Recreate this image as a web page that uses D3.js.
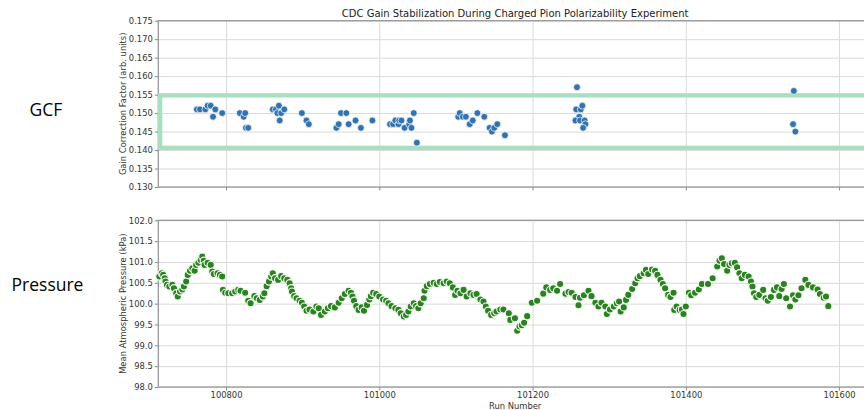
<!DOCTYPE html>
<html lang="en">
<head>
<meta charset="UTF-8">
<title>CDC Gain Stabilization</title>
<style>
  body { margin: 0; background: #fff; overflow: hidden; }
  .tick text { font-family: "DejaVu Sans", sans-serif; font-size: 8.4px; fill: #333; }
  .tick line { stroke: #888; }
  .grid line { stroke: #dadada; stroke-width: 1; }
  .grid path, .axis path { display: none; }
</style>
</head>
<body>
<div id="my_dataviz"></div>
<script src="https://d3js.org/d3.v7.min.js"></script>
<script>

// ---- data ----
var xTicks = [100800, 101000, 101200, 101400, 101600];
var gcfTicks = [0.130, 0.135, 0.140, 0.145, 0.150, 0.155, 0.160, 0.165, 0.170, 0.175];
var pressureTicks = [98.0, 98.5, 99.0, 99.5, 100.0, 100.5, 101.0, 101.5, 102.0];

// stable band drawn around the GCF values
var bandLow = 0.1406, bandHigh = 0.1548;

var gcfRuns = [100762, 100766, 100773, 100776, 100780, 100783, 100786, 100795,
  100818, 100823, 100825, 100826, 100829,
  100861, 100865, 100869, 100867, 100872, 100870, 100876, 100899, 100905, 100908,
  100944, 100947, 100950, 100957, 100960, 100969, 100976, 100991,
  101014, 101018, 101021, 101025, 101026, 101029, 101033, 101039, 101040, 101042, 101045, 101049,
  101103, 101105, 101109, 101113, 101118, 101122, 101128, 101137, 101144, 101147, 101150, 101154, 101164,
  101258, 101257, 101263, 101265, 101261, 101256, 101262, 101268, 101269, 101266,
  101541, 101540, 101543];
var gcfValues = [0.151, 0.151, 0.151, 0.152, 0.152, 0.149, 0.151, 0.150,
  0.150, 0.149, 0.150, 0.146, 0.146,
  0.151, 0.151, 0.152, 0.150, 0.150, 0.148, 0.151, 0.150, 0.148, 0.147,
  0.146, 0.147, 0.150, 0.150, 0.147, 0.148, 0.146, 0.148,
  0.147, 0.147, 0.148, 0.147, 0.148, 0.148, 0.146, 0.147, 0.148, 0.146, 0.150, 0.142,
  0.149, 0.150, 0.149, 0.149, 0.147, 0.148, 0.150, 0.149, 0.146, 0.145, 0.146, 0.147, 0.144,
  0.157, 0.151, 0.151, 0.152, 0.149, 0.148, 0.148, 0.148, 0.147, 0.146,
  0.156, 0.147, 0.145];

var pressureRuns = [100713, 100716, 100718, 100720, 100721, 100723, 100726, 100730, 100732, 100735,
  100737, 100740, 100743, 100745, 100748, 100750, 100753, 100756, 100759, 100761,
  100764, 100767, 100769, 100771, 100772, 100776, 100780, 100782, 100784, 100789,
  100792, 100795, 100796, 100799, 100803, 100808, 100812, 100816, 100819, 100825,
  100829, 100832, 100837, 100840, 100844, 100848, 100850, 100853, 100856, 100859,
  100861, 100864, 100868, 100872, 100876, 100880, 100883, 100885, 100886, 100889,
  100892, 100896, 100899, 100902, 100905, 100909, 100914, 100918, 100921, 100924,
  100929, 100933, 100937, 100942, 100947, 100951, 100955, 100960, 100963, 100965,
  100967, 100970, 100973, 100977, 100980, 100984, 100987, 100989, 100992, 100996,
  101000, 101005, 101009, 101012, 101016, 101021, 101025, 101028, 101032, 101035,
  101038, 101041, 101045, 101048, 101051, 101054, 101058, 101059, 101062, 101066,
  101071, 101075, 101079, 101084, 101088, 101092, 101096, 101099, 101102, 101106,
  101110, 101114, 101119, 101123, 101127, 101132, 101136, 101139, 101142, 101146,
  101150, 101153, 101158, 101162, 101169, 101171, 101177, 101180, 101183, 101186,
  101189, 101193, 101199, 101206, 101214, 101218, 101223, 101227, 101232, 101236,
  101243, 101247, 101251, 101256, 101260, 101262, 101267, 101273, 101277, 101282,
  101286, 101290, 101295, 101297, 101301, 101306, 101310, 101313, 101315, 101319,
  101322, 101325, 101330, 101334, 101337, 101340, 101345, 101348, 101351, 101356,
  101360, 101363, 101367, 101370, 101373, 101377, 101380, 101384, 101385, 101388,
  101392, 101395, 101397, 101400, 101404, 101407, 101412, 101417, 101421, 101429,
  101435, 101441, 101444, 101447, 101450, 101454, 101457, 101460, 101464, 101467,
  101470, 101473, 101477, 101482, 101485, 101487, 101489, 101492, 101496, 101501,
  101504, 101507, 101511, 101515, 101519, 101522, 101525, 101528, 101531, 101536,
  101540, 101543, 101547, 101551, 101556, 101560, 101566, 101572, 101575, 101580,
  101583, 101586];
var pressureValues = [100.65, 100.73, 100.69, 100.61, 100.53, 100.45, 100.41, 100.45, 100.37, 100.25,
  100.17, 100.29, 100.34, 100.41, 100.53, 100.69, 100.79, 100.85, 100.79, 100.93,
  100.98, 101.05, 101.13, 101.03, 100.93, 100.98, 100.93, 100.77, 100.71, 100.73,
  100.69, 100.65, 100.33, 100.26, 100.25, 100.25, 100.29, 100.33, 100.31, 100.26,
  100.07, 100.01, 100.18, 100.13, 100.09, 100.17, 100.25, 100.42, 100.53, 100.65,
  100.73, 100.61, 100.57, 100.66, 100.61, 100.57, 100.49, 100.37, 100.29, 100.18,
  100.13, 100.07, 100.02, 99.93, 99.83, 99.86, 99.81, 99.93, 99.89, 99.73,
  99.81, 99.89, 99.94, 99.91, 100.02, 100.13, 100.23, 100.31, 100.26, 100.17,
  100.07, 99.94, 99.85, 99.91, 99.83, 99.97, 100.10, 100.18, 100.26, 100.23,
  100.17, 100.10, 100.07, 100.01, 99.94, 99.89, 99.85, 99.77, 99.69, 99.73,
  99.81, 99.93, 100.01, 99.94, 99.89, 100.01, 100.13, 100.31, 100.42, 100.47,
  100.50, 100.47, 100.52, 100.49, 100.53, 100.49, 100.39, 100.21, 100.31, 100.25,
  100.33, 100.17, 100.25, 100.21, 100.23, 100.10, 100.05, 99.93, 99.83, 99.73,
  99.77, 99.81, 99.86, 99.86, 99.77, 99.61, 99.65, 99.35, 99.45, 99.48,
  99.54, 99.70, 100.02, 100.07, 100.24, 100.39, 100.33, 100.37, 100.31, 100.47,
  100.24, 100.28, 100.26, 100.16, 99.96, 100.14, 100.20, 100.31, 100.18, 100.02,
  99.93, 100.02, 99.93, 99.75, 99.86, 99.93, 100.01, 100.05, 99.81, 99.91,
  100.09, 100.21, 100.35, 100.49, 100.61, 100.66, 100.73, 100.81, 100.71, 100.82,
  100.79, 100.69, 100.57, 100.47, 100.37, 100.21, 100.16, 100.26, 99.85, 99.93,
  99.85, 99.86, 99.75, 99.93, 100.26, 100.20, 100.26, 100.34, 100.47, 100.47,
  100.61, 100.89, 101.03, 101.09, 100.95, 100.79, 100.93, 100.97, 100.98, 100.87,
  100.73, 100.61, 100.69, 100.65, 100.53, 100.41, 100.25, 100.16, 100.21, 100.33,
  100.13, 100.07, 100.16, 100.33, 100.39, 100.18, 100.35, 100.47, 100.13, 99.93,
  100.20, 100.10, 100.20, 100.37, 100.57, 100.45, 100.39, 100.34, 100.23, 100.14,
  100.17, 99.94];

// ---- layout ----
var width = 864, height = 410;
var left = 158.3, right = 872;
var gcfTop = 20.7, gcfBottom = 187;
var presTop = 220.3, presBottom = 387;

var svg = d3.select("#my_dataviz")
  .append("svg")
    .attr("width", width)
    .attr("height", height)
    .style("display", "block");

var x = d3.scaleLinear()
  .domain([100711.6, 101643])
  .range([left, right]);

var yGcf = d3.scaleLinear()
  .domain([0.130, 0.175])
  .range([gcfBottom, gcfTop]);

var yPres = d3.scaleLinear()
  .domain([98, 102])
  .range([presBottom, presTop]);

// draws grid, ticks and frame for one panel
function drawPanel(y, ticks, fmt, top, bottom, showXLabels) {
  // horizontal grid
  svg.append("g")
    .attr("class", "grid")
    .attr("transform", "translate(" + left + ",0)")
    .call(d3.axisLeft(y).tickValues(ticks).tickSize(-(right - left)).tickFormat(""));
  // vertical grid
  svg.append("g")
    .attr("class", "grid")
    .attr("transform", "translate(0," + bottom + ")")
    .call(d3.axisBottom(x).tickValues(xTicks).tickSize(-(bottom - top)).tickFormat(""));

  // y axis
  svg.append("g")
    .attr("class", "axis")
    .attr("transform", "translate(" + left + ",0)")
    .call(d3.axisLeft(y).tickValues(ticks).tickFormat(d3.format(fmt)).tickSize(3.5).tickPadding(2));

  // x axis
  svg.append("g")
    .attr("class", "axis")
    .attr("transform", "translate(0," + bottom + ")")
    .call(d3.axisBottom(x).tickValues(xTicks)
      .tickFormat(showXLabels ? function(d) { return d; } : "")
      .tickSize(3.5).tickPadding(1.5));

  // frame
  svg.append("rect")
    .attr("x", left)
    .attr("y", top)
    .attr("width", right - left)
    .attr("height", bottom - top)
    .style("fill", "none")
    .style("stroke", "#999")
    .style("stroke-width", 1.3);
}

drawPanel(yGcf, gcfTicks, ".3f", gcfTop, gcfBottom, false);
drawPanel(yPres, pressureTicks, ".1f", presTop, presBottom, true);

// band around the stable region
svg.append("rect")
  .attr("x", x(100714))
  .attr("y", yGcf(bandHigh))
  .attr("width", x(101700) - x(100714))
  .attr("height", yGcf(bandLow) - yGcf(bandHigh))
  .style("fill", "none")
  .style("stroke", "#a9dfc1")
  .style("stroke-width", 4.3);

// GCF points
svg.append("g")
  .selectAll("circle")
  .data(gcfRuns)
  .enter()
  .append("circle")
    .attr("cx", function(d) { return x(d); })
    .attr("cy", function(d, i) { return yGcf(gcfValues[i]); })
    .attr("r", 3.4)
    .style("fill", "#3173b2")
    .style("stroke", "#fff")
    .style("stroke-width", 0.7);

// pressure points
svg.append("g")
  .selectAll("circle")
  .data(pressureRuns)
  .enter()
  .append("circle")
    .attr("cx", function(d) { return x(d); })
    .attr("cy", function(d, i) { return yPres(pressureValues[i]); })
    .attr("r", 3.6)
    .style("fill", "#2a8220")
    .style("stroke", "#f4fbf2")
    .style("stroke-width", 1.1);

// title and axis labels
svg.append("text")
  .attr("x", (left + right) / 2)
  .attr("y", 17)
  .attr("text-anchor", "middle")
  .style("font-family", "DejaVu Sans, sans-serif")
  .style("font-size", "10px")
  .style("fill", "#222")
  .text("CDC Gain Stabilization During Charged Pion Polarizability Experiment");

svg.append("text")
  .attr("transform", "translate(126," + (gcfTop + gcfBottom) / 2 + ") rotate(-90)")
  .attr("text-anchor", "middle")
  .style("font-family", "DejaVu Sans, sans-serif")
  .style("font-size", "8.4px")
  .style("fill", "#333")
  .text("Gain Correction Factor (arb. units)");

svg.append("text")
  .attr("transform", "translate(126," + (presTop + presBottom) / 2 + ") rotate(-90)")
  .attr("text-anchor", "middle")
  .style("font-family", "DejaVu Sans, sans-serif")
  .style("font-size", "8.4px")
  .style("fill", "#333")
  .text("Mean Atmospheric Pressure (kPa)");

svg.append("text")
  .attr("x", (left + right) / 2)
  .attr("y", 408.5)
  .attr("text-anchor", "middle")
  .style("font-family", "DejaVu Sans, sans-serif")
  .style("font-size", "8.4px")
  .style("fill", "#333")
  .text("Run Number");

// slide labels beside the panels
svg.append("text")
  .attr("x", 46)
  .attr("y", 116)
  .attr("text-anchor", "middle")
  .style("font-family", "Open Sans, sans-serif")
  .style("font-size", "17.5px")
  .style("fill", "#000")
  .text("GCF");

svg.append("text")
  .attr("x", 47.5)
  .attr("y", 291)
  .attr("text-anchor", "middle")
  .style("font-family", "Open Sans, sans-serif")
  .style("font-size", "17.5px")
  .style("fill", "#000")
  .text("Pressure");

</script>
</body>
</html>
